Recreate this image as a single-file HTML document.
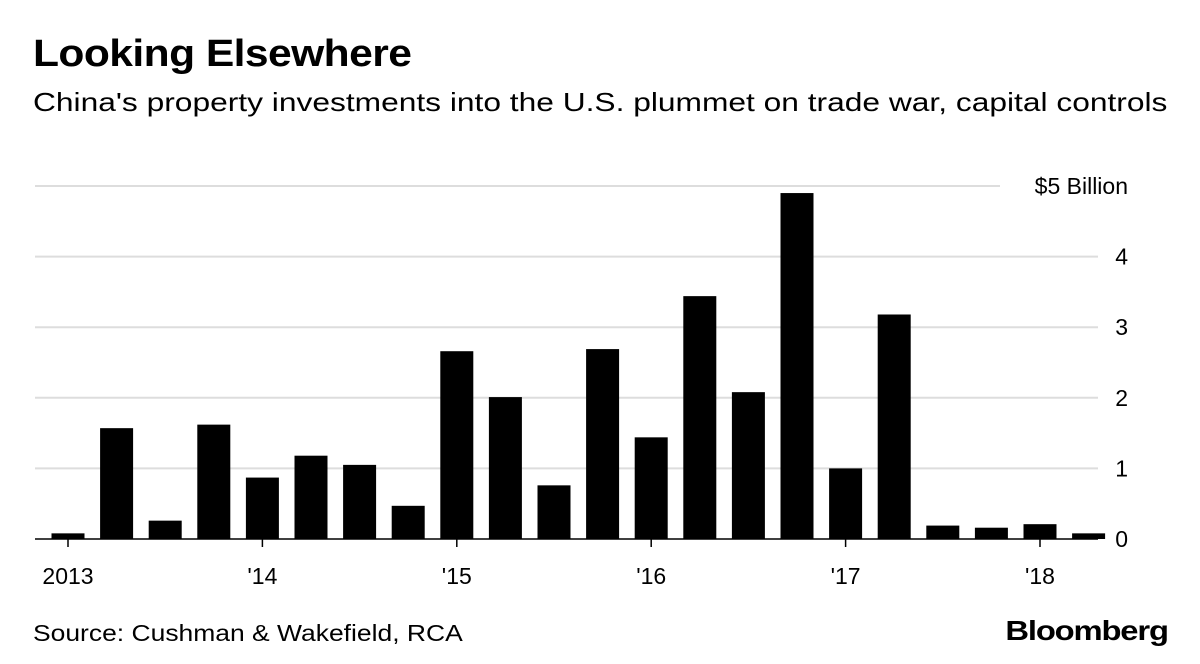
<!DOCTYPE html>
<html><head><meta charset="utf-8"><style>
body{margin:0;background:#fff;width:1200px;height:664px;overflow:hidden;font-family:"Liberation Sans",sans-serif;}
.t{position:absolute;left:33px;top:33px;font-size:38px;font-weight:bold;color:#000;letter-spacing:-0.5px;transform:scaleX(1.12);transform-origin:left top;white-space:nowrap}
.s{position:absolute;left:33px;top:87px;font-size:26px;color:#000;transform:scaleX(1.22);transform-origin:left top;white-space:nowrap}
.src{position:absolute;left:33px;top:620px;font-size:23px;color:#000;transform:scaleX(1.15);transform-origin:left top;white-space:nowrap}
.logo{position:absolute;right:32px;top:615px;font-size:28px;font-weight:bold;letter-spacing:-1px;transform:scaleX(1.17);transform-origin:right top;white-space:nowrap}
svg{position:absolute;left:0;top:0}
</style></head><body>
<div class="t">Looking Elsewhere</div>
<div class="s">China's property investments into the U.S. plummet on trade war, capital controls</div>
<svg id="c" width="1200" height="664"></svg>
<div class="src">Source: Cushman &amp; Wakefield, RCA</div>
<div class="logo">Bloomberg</div>
<script>
const values=[0.08,1.57,0.26,1.62,0.87,1.18,1.05,0.47,2.66,2.01,0.76,2.69,1.44,3.44,2.08,4.9,1.0,3.18,0.19,0.16,0.21,0.08];
const yTicks=[0,1,2,3,4,5];
const yTickLabels=["0","1","2","3","4","$5 Billion"];
const xTickIdx=[0,4,8,12,16,20];
const xTickLabels=["2013","'14","'15","'16","'17","'18"];
const svg=document.getElementById('c');const NS='http://www.w3.org/2000/svg';
const y=v=>539-v*70.6;
const x=i=>68+i*48.6;
function mk(t,a){const e=document.createElementNS(NS,t);for(const k in a)e.setAttribute(k,a[k]);svg.appendChild(e);return e;}
yTicks.forEach((v,i)=>{
 const g=mk('line',{x1:35,x2:i==5?1000:1098,y1:y(v),y2:y(v),stroke:i==0?'#000':'#ddd','stroke-width':i==0?1.5:2});
 
 
 const tx=mk('text',{x:1128,y:y(v)+8,'text-anchor':'end','font-size':23,'font-family':'Liberation Sans, sans-serif'});
 tx.textContent=yTickLabels[i];
 
 
});
values.forEach((v,i)=>{
 const r=mk('rect',{x:x(i)-16.5,y:y(v),width:33,height:539-y(v),fill:'#000'});
 
 
});
xTickIdx.forEach((idx,i)=>{
 const l=mk('line',{x1:x(idx),x2:x(idx),y1:539,y2:547,stroke:'#000','stroke-width':1.5});
 
 
 const tx=mk('text',{x:x(idx),y:584,'text-anchor':'middle','font-size':23,'font-family':'Liberation Sans, sans-serif'});
 tx.textContent=xTickLabels[i];
 
 
});
</script>
</body></html>
